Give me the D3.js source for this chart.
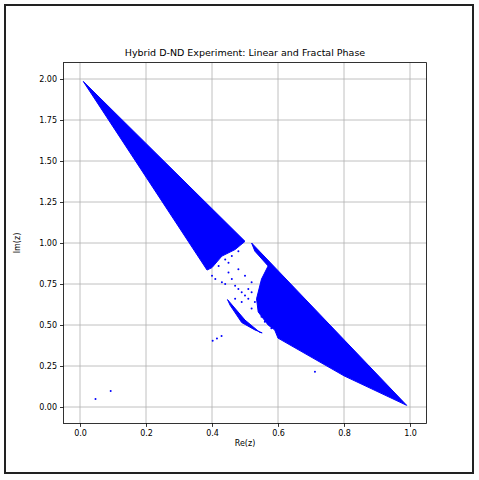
<!DOCTYPE html>
<html><head><meta charset="utf-8">
<script src="https://cdn.jsdelivr.net/npm/d3@7"></script>
<style>body{margin:0;background:#fff}</style>
</head><body><svg id="c" width="479" height="480"></svg>
<script>
// dense regions of the scatter, outlined as [Re, Im] vertices
const upperBand = [[0.01,1.985],[0.50,1.01],[0.47,0.96],[0.43,0.92],[0.40,0.85],[0.385,0.835],[0.01,1.985]];
const lowerBand = [[0.52,1.0],[0.99,0.01],[0.80,0.19],[0.60,0.42],[0.59,0.47],[0.57,0.50],[0.54,0.58],[0.535,0.66],[0.55,0.78],[0.57,0.86],[0.53,0.95]];
const sliver = [[0.447,0.655],[0.50,0.53],[0.545,0.455],[0.552,0.452],[0.53,0.47],[0.49,0.515],[0.455,0.62]];
// sparse points around the gaps
const sparseRe = [0.40,0.41,0.43,0.44,0.45,0.46,0.47,0.48,0.49,0.50,0.51,0.52,0.42,0.45,0.48,0.50,0.52,0.47,0.49,0.51,0.44,0.46,0.48,0.53,0.52,0.55,0.56,0.58,0.57,0.60,0.62,0.61,0.402,0.415,0.429,0.712,0.093,0.047];
const sparseIm = [0.80,0.78,0.76,0.75,0.82,0.78,0.74,0.72,0.70,0.68,0.72,0.70,0.86,0.88,0.84,0.80,0.76,0.66,0.64,0.66,0.90,0.92,0.95,0.64,0.60,0.55,0.52,0.48,0.60,0.46,0.44,0.50,0.404,0.418,0.433,0.215,0.098,0.049];

const xTicks = [0,0.2,0.4,0.6,0.8,1.0];
const yTicks = [0,0.25,0.5,0.75,1.0,1.25,1.5,1.75,2.0];

const svg = d3.select("#c");
svg.append("rect").attr("x",5).attr("y",5).attr("width",468).attr("height",468)
  .attr("fill","#fff").attr("stroke","#222").attr("stroke-width",2);

const x = d3.scaleLinear().domain([-0.05,1.05]).range([63.5,426.5]);
const y = d3.scaleLinear().domain([-0.1,2.1]).range([423.4,62.6]);

const g = svg.append("g").style("font-family","DejaVu Sans");
// grid
g.selectAll(".gx").data(xTicks).enter().append("line")
  .attr("x1",d=>x(d)).attr("x2",d=>x(d)).attr("y1",62.6).attr("y2",423.4)
  .attr("stroke","#b0b0b0").attr("stroke-width",0.8);
g.selectAll(".gy").data(yTicks).enter().append("line")
  .attr("y1",d=>y(d)).attr("y2",d=>y(d)).attr("x1",63.5).attr("x2",426.5)
  .attr("stroke","#b0b0b0").attr("stroke-width",0.8);

const line = d3.line().x(d=>x(d[0])).y(d=>y(d[1]));
[upperBand,lowerBand,sliver].forEach(p=>{
  g.append("path").attr("d",line(p)+"Z").attr("fill","#0000ff").attr("stroke","#0000ff").attr("stroke-width",1);
});
g.selectAll(".pt").data(sparseRe).enter().append("circle")
  .attr("cx",d=>x(d)).attr("cy",(d,i)=>y(sparseIm[i])).attr("r",1).attr("fill","#0000ff");

const xa = g.append("g").attr("transform","translate(0,423.4)")
  .call(d3.axisBottom(x).tickValues(xTicks).tickFormat(d3.format(".1f")).tickSize(3.5));
const ya = g.append("g").attr("transform","translate(63.5,0)")
  .call(d3.axisLeft(y).tickValues(yTicks).tickFormat(d3.format(".2f")).tickSize(3.5));
[xa,ya].forEach(a=>{a.selectAll("text").attr("font-size",8).attr("fill","#000").style("font-family","DejaVu Sans");
  a.select(".domain").remove(); a.selectAll("line").attr("stroke","#000").attr("stroke-width",0.8);});
g.append("rect").attr("x",63.5).attr("y",62.6).attr("width",363).attr("height",360.8)
  .attr("fill","none").attr("stroke","#000").attr("stroke-width",0.8);

g.append("text").attr("x",245).attr("y",56).attr("text-anchor","middle").attr("font-size",9.5).text("Hybrid D-ND Experiment: Linear and Fractal Phase");
g.append("text").attr("x",245).attr("y",446).attr("text-anchor","middle").attr("font-size",8).text("Re(z)");
g.append("text").attr("transform","translate(20,243)rotate(-90)").attr("text-anchor","middle").attr("font-size",8).text("Im(z)");
</script></body></html>
